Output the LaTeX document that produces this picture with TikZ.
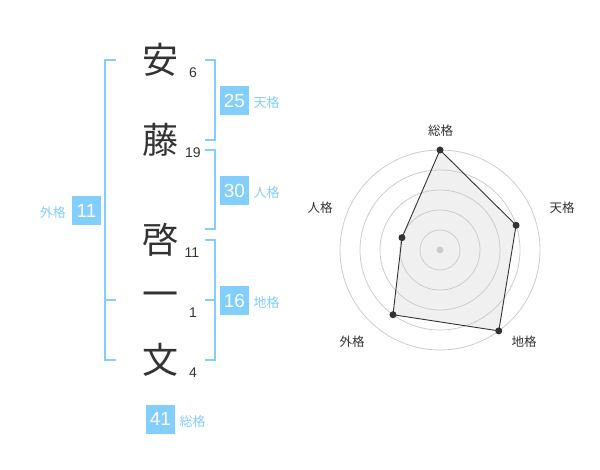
\documentclass[tikz,border=0pt]{standalone}
\usepackage{fontspec}
\setmainfont{Liberation Sans}
\newfontfamily\cjk{Noto Sans CJK JP}
\usetikzlibrary{calc}
\definecolor{sky}{RGB}{130,206,252}
\definecolor{ink}{RGB}{51,51,51}
\definecolor{ring}{RGB}{204,204,204}
\definecolor{area}{RGB}{240,240,240}
\tikzset{
  kanji/.style={font=\cjk\fontsize{36}{36}\selectfont, text=ink, inner sep=0pt},
  strokes/.style={font=\fontsize{14}{14}\selectfont, text=ink, inner sep=0pt},
  valbox/.style={fill=sky, text=white, font=\fontsize{19}{19}\selectfont, minimum width=29pt, minimum height=29pt, inner sep=0pt},
  vallabel/.style={font=\cjk\fontsize{13}{13}\selectfont, text=sky, inner sep=0pt},
  bracket/.style={draw=sky, line width=2pt},
  radarlabel/.style={font=\cjk\fontsize{12.5}{12.5}\selectfont, text=ink, inner sep=0pt},
  ringline/.style={draw=ring, line width=0.8pt},
  dot/.style={circle, fill=ink, inner sep=0pt, minimum size=7pt},
}
\begin{document}
\begin{tikzpicture}[x=1pt, y=-1pt]
\useasboundingbox (0,0) rectangle (600,470);
% kanji
\node[kanji] (k1) at (160,60) {安};
\node[kanji] (k2) at (160,140) {藤};
\node[kanji] (k3) at (160,240) {啓};
\node[kanji] (k4) at (160,300) {一};
\node[kanji] (k5) at (160,360) {文};
% stroke counts
\node[strokes] (n1) at (193,73) {6};
\node[strokes] (n2) at (193,153) {19};
\node[strokes] (n3) at (192,253) {11};
\node[strokes] (n4) at (193,313) {1};
\node[strokes] (n5) at (193,373) {4};
% brackets
\draw[bracket] (116,60) -- (105,60) -- (105,360) -- (116,360);
\draw[bracket] (105,300) -- (116,300);
\draw[bracket] (205,60) -- (215,60) -- (215,140) -- (205,140);
\draw[bracket] (205,150) -- (215,150) -- (215,229) -- (205,229);
\draw[bracket] (205,240) -- (215,240) -- (215,360) -- (205,360);
\draw[bracket] (205,300) -- (215,300);
% value boxes
\node[valbox] (b25) at (234.5,100.5) {25};
\node[vallabel, anchor=west] (l25) at (253.5,103) {天格};
\node[valbox] (b30) at (234.5,190.5) {30};
\node[vallabel, anchor=west] (l30) at (253.5,193) {人格};
\node[valbox] (b11) at (86.5,210.5) {11};
\node[vallabel, anchor=east] (l11) at (66,213) {外格};
\node[valbox] (b16) at (234.5,300.5) {16};
\node[vallabel, anchor=west] (l16) at (253.5,303) {地格};
\node[valbox] (b41) at (160.5,419) {41};
\node[vallabel, anchor=west] (l41) at (179.5,422) {総格};
% radar
\coordinate (C) at (440,250);
\fill[area] ($(C)+(90:100pt)$) -- ($(C)+(18:80pt)$) -- ($(C)+(-54:100pt)$) -- ($(C)+(-126:80pt)$) -- ($(C)+(162:40pt)$) -- cycle;
\foreach \r in {20,40,60,80,100} \draw[ringline] (C) circle (\r pt);
\node[circle, fill=ring, inner sep=0pt, minimum size=7pt] (c0) at (C) {};
\coordinate (p1) at ($(C)+(90:100pt)$);
\coordinate (p2) at ($(C)+(18:80pt)$);
\coordinate (p3) at ($(C)+(-54:100pt)$);
\coordinate (p4) at ($(C)+(-126:80pt)$);
\coordinate (p5) at ($(C)+(162:40pt)$);
\draw[ink, line width=0.9pt] (p1) -- (p2) -- (p3) -- (p4) -- (p5) -- cycle;
\foreach \p in {p1,p2,p3,p4,p5} \node[dot] at (\p) {};
\node[radarlabel] (r1) at (440.5,130.5) {総格};
\node[radarlabel] (r2) at (562,208) {天格};
\node[radarlabel] (r3) at (524,342) {地格};
\node[radarlabel] (r4) at (352,342) {外格};
\node[radarlabel] (r5) at (320,208) {人格};
\end{tikzpicture}
\end{document}
